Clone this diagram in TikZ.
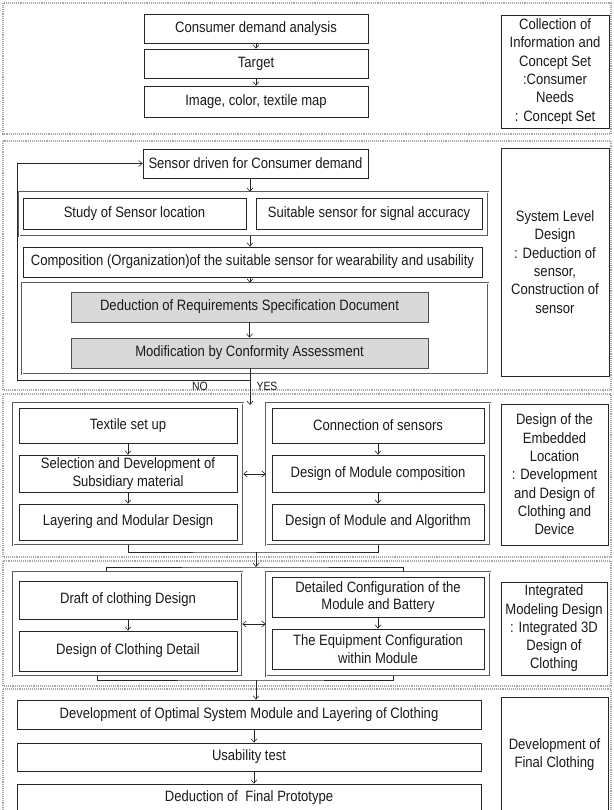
\documentclass[tikz,border=0pt]{standalone}
\usepackage{fontspec}
\setmainfont{Liberation Sans}[FakeStretch=0.87]
\usetikzlibrary{positioning, arrows.meta, calc}
\definecolor{lineDark}{HTML}{262626}
\definecolor{frameGrey}{HTML}{A6A6A6}
\definecolor{boxGrey}{HTML}{D9D9D9}
\definecolor{textDark}{HTML}{1A1A1A}

\begin{document}
\begin{tikzpicture}[x=1pt, y=-1pt,
    stageFrame/.style={draw=frameGrey, line width=1.1pt, densely dotted},
    stepBox/.style={draw=lineDark, line width=0.7pt, rectangle, fill=white, align=center, text=textDark, font=\fontsize{15}{17.5}\selectfont, inner sep=2pt},
    greyBox/.style={stepBox, fill=boxGrey, draw=lineDark!80},
    groupFrame/.style={draw=lineDark!75, line width=0.5pt, double=white, double distance=0.7pt, rectangle},
    phaseBox/.style={stepBox, font=\fontsize{15}{18.3}\selectfont},
    flowLine/.style={draw=lineDark, line width=0.6pt},
    flowArrow/.style={flowLine, -{Straight Barb[length=3.5pt, width=6pt]}},
    biArrow/.style={flowLine, {Straight Barb[length=3.5pt, width=6pt]}-{Straight Barb[length=3.5pt, width=6pt]}},
    flowLabel/.style={font=\fontsize{12}{14}\selectfont, text=textDark, inner sep=1pt},
]
\useasboundingbox (0,0) rectangle (613,810);

\draw[stageFrame] (3,3) rectangle (611,134);
\draw[stageFrame] (3,141) rectangle (611,390);
\draw[stageFrame] (3,394) rectangle (611,557);
\draw[stageFrame] (3,561) rectangle (611,686);
\draw[stageFrame] (3,689) rectangle (611,830);

\node[stepBox, minimum width=224, minimum height=29] (demandBox) at (256, 28.5) {Consumer demand analysis};
\node[stepBox, minimum width=224, minimum height=29] (targetBox) at (256, 63.5) {Target};
\node[stepBox, minimum width=224, minimum height=31] (mapBox) at (256, 101.5) {Image, color, textile map};
\node[phaseBox, minimum width=108, minimum height=113] (infoBox) at (555, 71.5) {Collection of\\Information and\\Concept Set\\:Consumer\\Needs\\: Concept Set};
\draw[flowArrow] (demandBox) -- (targetBox);
\draw[flowArrow] (targetBox) -- (mapBox);

\coordinate (spineB) at (250, 0);
\coordinate (noCorner) at (17, 380);
\coordinate (yesEnd) at (250, 405);
\node[stepBox, minimum width=225, minimum height=29] (sensorBox) at (255.5, 163.5) {Sensor driven for Consumer demand};
\node[groupFrame, minimum width=469, minimum height=44] (locFrame) at (253.5, 214) {};
\node[stepBox, minimum width=223, minimum height=31] (locBox) at (134.5, 213.5) {Study of Sensor location};
\node[stepBox, minimum width=226, minimum height=31] (accBox) at (369, 213.5) {Suitable sensor for signal accuracy};
\node[stepBox, minimum width=459, minimum height=30] (compBox) at (252.5, 262) {Composition (Organization)of the suitable sensor for wearability and usability};
\node[groupFrame, minimum width=466, minimum height=91] (reqFrame) at (255, 328.5) {};
\node[greyBox, minimum width=357, minimum height=30] (reqBox) at (249.5, 307) {Deduction of Requirements Specification Document};
\node[greyBox, minimum width=357, minimum height=30] (modBox) at (249.5, 353) {Modification by Conformity Assessment};
\node[phaseBox, minimum width=108, minimum height=228] (sysBox) at (555, 262) {System Level\\Design\\: Deduction of\\sensor,\\Construction of\\sensor};
\draw[flowArrow] (sensorBox.south -| spineB) -- (locFrame.north -| spineB);
\draw[flowArrow] (locFrame.south -| spineB) -- (compBox.north -| spineB);
\draw[flowArrow] (compBox.south -| spineB) -- (reqFrame.north -| spineB);
\draw[flowArrow] (reqBox) -- (modBox);
\draw[flowArrow] (modBox.south -| spineB) -- (yesEnd);
\draw[flowArrow] (modBox.south |- noCorner) -- (noCorner) |- (sensorBox.west);
\node[flowLabel] (noLabel) at (200, 386.5) {NO};
\node[flowLabel] (yesLabel) at (267, 386.5) {YES};

\node[groupFrame, minimum width=230, minimum height=142] (texFrame) at (128, 474) {};
\node[stepBox, minimum width=218, minimum height=35] (texBox) at (128, 425.5) {Textile set up};
\node[stepBox, minimum width=218, minimum height=37] (subBox) at (128, 473.5) {Selection and Development of\\Subsidiary material};
\node[stepBox, minimum width=218, minimum height=36] (layBox) at (128, 522) {Layering and Modular Design};
\node[groupFrame, minimum width=224, minimum height=142] (senFrame) at (378, 474) {};
\node[stepBox, minimum width=212, minimum height=35] (conBox) at (378, 425.5) {Connection of sensors};
\node[stepBox, minimum width=212, minimum height=37] (compoBox) at (378, 473.5) {Design of Module composition};
\node[stepBox, minimum width=212, minimum height=36] (algBox) at (378, 522) {Design of Module and Algorithm};
\node[phaseBox, minimum width=107, minimum height=141] (embBox) at (554.5, 474.5) {Design of the\\Embedded\\Location\\: Development\\and Design of\\Clothing and\\Device};
\draw[flowArrow] (texBox) -- (subBox);
\draw[flowArrow] (subBox) -- (layBox);
\draw[flowArrow] (conBox) -- (compoBox);
\draw[flowArrow] (compoBox) -- (algBox);
\draw[biArrow] (texFrame.east) -- (senFrame.west);
\coordinate (joinC) at (256, 552);
\coordinate (forkD) at (256, 567);
\draw[flowLine] (texFrame.south) |- (joinC) -| (senFrame.south);
\draw[flowArrow] (joinC) -- (forkD);

\coordinate (forkDL) at (106, 0);
\coordinate (forkDR) at (403, 0);
\node[groupFrame, minimum width=229, minimum height=104] (drfFrame) at (127.5, 624) {};
\node[stepBox, minimum width=218, minimum height=38] (drfBox) at (128, 600) {Draft of clothing Design};
\node[stepBox, minimum width=218, minimum height=40] (detBox) at (128, 651) {Design of Clothing Detail};
\node[groupFrame, minimum width=224, minimum height=104] (eqFrame) at (378, 624) {};
\node[stepBox, minimum width=212, minimum height=40] (batBox) at (378, 597) {Detailed Configuration of the\\Module and Battery};
\node[stepBox, minimum width=212, minimum height=40] (eqBox) at (378, 649) {The Equipment Configuration\\within Module};
\node[phaseBox, minimum width=106, minimum height=93] (modelBox) at (554, 628.5) {Integrated\\Modeling Design\\: Integrated 3D\\Design of\\Clothing};
\draw[flowLine] (drfFrame.north -| forkDL) |- (forkD) -| (eqFrame.north -| forkDR);
\draw[flowArrow] (drfBox) -- (detBox);
\draw[flowArrow] (batBox) -- (eqBox);
\draw[biArrow] (drfFrame.east) -- (eqFrame.west);
\coordinate (joinDL) at (97, 0);
\coordinate (joinDR) at (393, 0);
\coordinate (joinD) at (256, 680);
\draw[flowLine] (drfFrame.south -| joinDL) |- (joinD) -| (eqFrame.south -| joinDR);

\coordinate (spineE) at (254, 0);
\node[stepBox, minimum width=464, minimum height=29] (optBox) at (249, 714.5) {Development of Optimal System Module and Layering of Clothing};
\node[stepBox, minimum width=464, minimum height=28] (useBox) at (249, 757) {Usability test};
\node[stepBox, minimum width=464, minimum height=28] (protoBox) at (249, 798) {Deduction of~ Final Prototype};
\node[phaseBox, minimum width=107, minimum height=115] (finalBox) at (554.5, 754.5) {Development of\\Final Clothing};
\draw[flowArrow] (joinD) -- (optBox.north -| joinD);
\draw[flowArrow] (optBox.south -| spineE) -- (useBox.north -| spineE);
\draw[flowArrow] (useBox.south -| spineE) -- (protoBox.north -| spineE);
\end{tikzpicture}
\end{document}
